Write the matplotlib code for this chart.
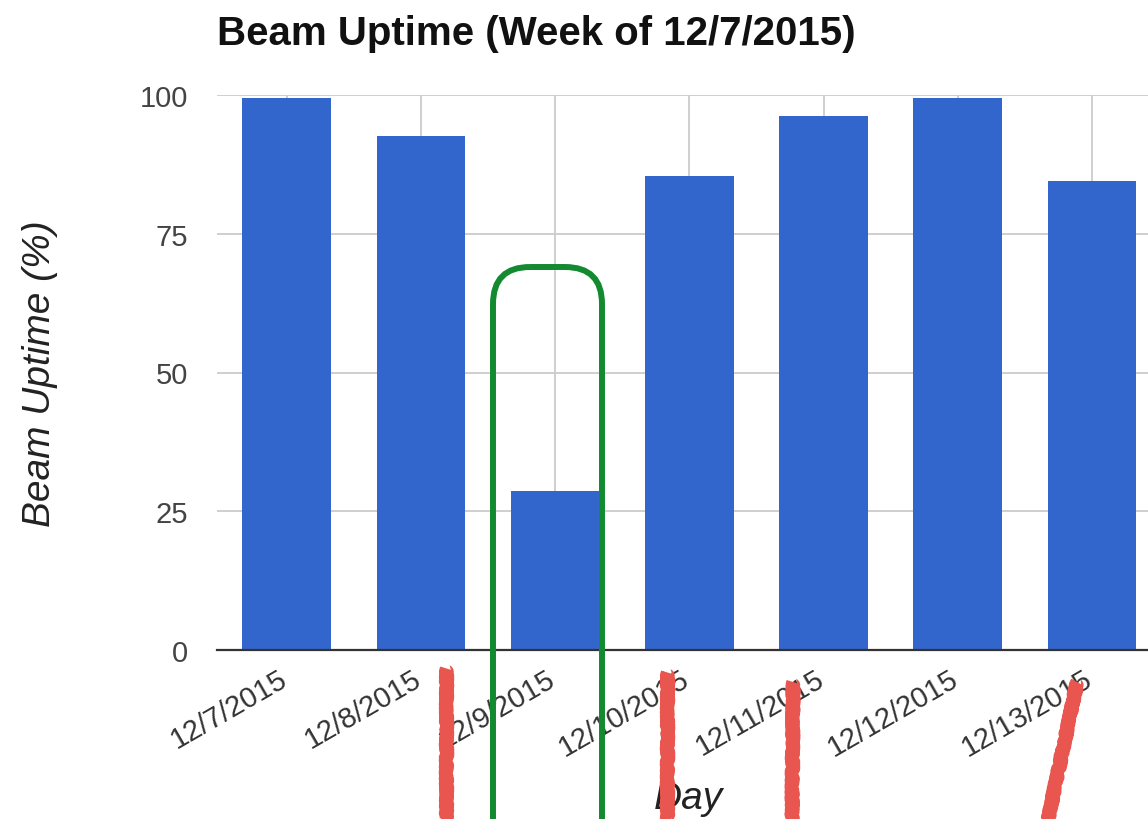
import matplotlib.pyplot as plt
import numpy as np
from matplotlib.patches import FancyBboxPatch
from matplotlib.lines import Line2D
from matplotlib.transforms import Affine2D, ScaledTranslation

# data
days = ["12/7/2015", "12/8/2015", "12/9/2015", "12/10/2015",
        "12/11/2015", "12/12/2015", "12/13/2015"]
uptime = [99.5, 92.6, 28.6, 85.4, 96.2, 99.5, 84.5]
y_ticks = [0, 25, 50, 75, 100]

plt.rcParams['font.family'] = ['Liberation Sans', 'DejaVu Sans']

W, H = 1148, 820
fig = plt.figure(figsize=(W / 100, H / 100), dpi=100)
ax = fig.add_axes([217 / W, 1 - 651 / H, (1159 - 217) / W, (651 - 96) / H])

x = np.arange(len(days))
ax.bar(x, uptime, width=0.66, color='#3366CC', zorder=3)
ax.set_xlim(-0.52, 6.5)
ax.set_ylim(0, 100)
ax.set_yticks(y_ticks)
ax.set_xticks(x)
ax.tick_params(axis='y', length=0, pad=21, labelsize=21, labelcolor='#444444')
ax.tick_params(axis='x', length=0, pad=10)
ax.set_xticklabels(days, rotation=30, ha='right', va='top',
                   rotation_mode='anchor', fontsize=21, color='#333333')
# nudge the rotated labels so their right end sits on the tick
shift = ScaledTranslation(-0.09, 0, fig.dpi_scale_trans)
for lab in ax.get_xticklabels():
    lab.set_transform(lab.get_transform() + shift)
ax.grid(True, color='#cccccc', lw=1.3)
ax.set_axisbelow(True)
for s in ['left', 'right', 'top']:
    ax.spines[s].set_visible(False)
ax.spines['bottom'].set_color('#333333')
ax.spines['bottom'].set_linewidth(1.6)
ax.spines['bottom'].set_zorder(4)

ax.set_title("Beam Uptime (Week of 12/7/2015)", loc='left', fontsize=29,
             fontweight='bold', color='#111111', pad=37)
ax.set_ylabel("Beam Uptime (%)", fontsize=28, fontstyle='italic',
              color='#222222', labelpad=59)
ax.set_xlabel("Day", fontsize=28, fontstyle='italic', color='#222222',
              labelpad=14)

# overlay drawn in image pixel coordinates (origin top-left)
pix = Affine2D().scale(1 / W, -1 / H).translate(0, 1) + fig.transFigure

box = FancyBboxPatch((493, 268), 109, 700,
                     boxstyle="round,pad=0,rounding_size=37",
                     fill=False, ec='#148A30', lw=4.3, transform=pix)
fig.add_artist(box)

red_marks = [((446, 669), (446, 830)), ((667, 673), (667, 830)),
             ((793, 683), (792, 830)), ((1077, 683), (1046, 830))]
for (x0, y0), (x1, y1) in red_marks:
    ln = Line2D([x0, x1], [y0, y1], color='#E9564F', lw=9.5,
                solid_capstyle='butt', transform=pix)
    ln.set_sketch_params(scale=1.2, length=4, randomness=6)
    fig.add_artist(ln)

fig.savefig("out.png", dpi=100)
